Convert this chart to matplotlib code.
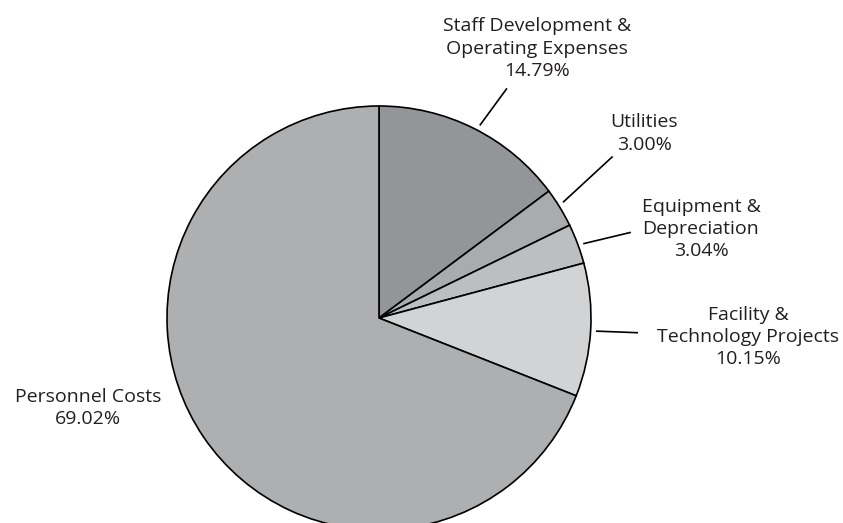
import numpy as np
import matplotlib
matplotlib.use("Agg")
import matplotlib.pyplot as plt

labels = ["Staff Development &\nOperating Expenses", "Utilities", "Equipment &\nDepreciation",
          "Facility &\nTechnology Projects", "Personnel Costs"]
values = [14.79, 3.00, 3.04, 10.15, 69.02]
colors = ["#939598", "#a9abae", "#bcbec0", "#d1d3d4", "#aeafb1"]

W, H = 843, 523
fig = plt.figure(figsize=(W / 100, H / 100), dpi=100)
ax = fig.add_axes([0, 0, 1, 1])
cx, cy, R = 379, H - 318, 212
wedges, _ = ax.pie(values, colors=colors, startangle=90, counterclock=False,
                   center=(cx, cy), radius=R, frame=True,
                   wedgeprops=dict(edgecolor="black", linewidth=1.2))
ax.set_xlim(0, W)
ax.set_ylim(0, H)
ax.set_aspect("equal")
ax.set_axis_off()

# leader styling: (start angle offset, end angle offset, end radius factor)
leaders = [(-1.0, -2.5, 1.24), (0.8, 3.3, 1.34), (-0.5, -1.7, 1.255), (-0.2, 0.0, 1.224), None]
label_pos = [(537, 48.5), (644, 133.5), (701, 229), (748, 337), (88, 408)]

fs = 14.0
for w, lab, val, ld, (lx, ly) in zip(wedges, labels, values, leaders, label_pos):
    mid = (w.theta1 + w.theta2) / 2
    if ld is not None:
        a0 = np.deg2rad(mid + ld[0])
        a1 = np.deg2rad(mid + ld[1])
        x0, y0 = cx + R * 1.025 * np.cos(a0), cy + R * 1.025 * np.sin(a0)
        x1, y1 = cx + R * ld[2] * np.cos(a1), cy + R * ld[2] * np.sin(a1)
        ax.plot([x0, x1], [y0, y1], color="black", lw=1.2, solid_capstyle="butt")
    ax.text(lx, H - ly, f"{lab}\n{val:.2f}%", ha="center", va="center",
            fontsize=fs, family="Open Sans", linespacing=1.32, color="#231f20")

fig.savefig("out.png", dpi=100)
